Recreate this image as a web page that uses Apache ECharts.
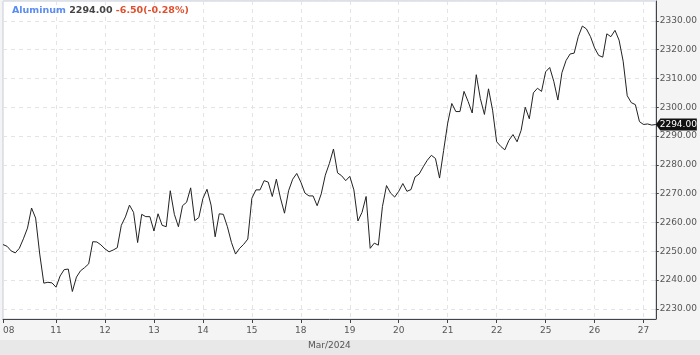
<!DOCTYPE html>
<html>
<head>
<meta charset="utf-8">
<script src="https://cdn.jsdelivr.net/npm/echarts@6/dist/echarts.min.js"></script>
<style>
html,body{margin:0;padding:0;background:#f4f4f4;}
#c{width:700px;height:355px;}
</style>
</head>
<body>
<div id="c"></div>
<script>
const instrument = 'Aluminum';
const changeAbs = '-6.50';
const changePct = '-0.28%';
const monthLabel = 'Mar/2024';
const days = ['08','11','12','13','14','15','18','19','20','21','22','25','26','27'];
const pointsPerDay = [13,12,12,12,12,12,12,12,12,12,12,12,12,4];
const prices = [
 2252.3,2251.7,2250.1,2249.4,2251.0,2254.3,2258.0,2265.0,2261.5,2249.0,2238.9,2239.2,2239.0,
 2237.5,2241.4,2243.6,2243.8,2236.0,2241.0,2243.2,2244.3,2245.6,2253.3,2253.2,2252.2,
 2250.8,2249.8,2250.4,2251.2,2259.0,2261.9,2266.0,2263.5,2253.0,2262.8,2262.0,2262.0,
 2257.0,2263.0,2259.0,2258.5,2271.0,2262.8,2258.5,2265.8,2267.0,2272.0,2260.6,2261.7,
 2268.3,2271.5,2266.0,2255.0,2263.0,2262.8,2258.5,2253.0,2249.0,2251.0,2252.4,2254.2,
 2268.4,2271.3,2271.3,2274.5,2274.0,2269.0,2275.0,2268.5,2263.2,2271.0,2275.0,2277.0,
 2274.0,2270.2,2269.2,2269.2,2265.8,2269.9,2276.4,2280.5,2285.5,2277.2,2276.2,2274.5,
 2276.0,2271.3,2260.5,2263.5,2269.0,2251.0,2252.8,2252.1,2265.5,2272.8,2270.2,2268.8,
 2270.8,2273.5,2270.8,2271.4,2275.8,2276.8,2279.3,2281.6,2283.3,2282.2,2275.4,2285.0,
 2294.5,2301.3,2298.5,2298.5,2305.5,2302.0,2298.0,2311.3,2303.0,2297.5,2306.4,2299.0,
 2288.0,2286.4,2285.2,2288.5,2290.5,2288.0,2292.0,2300.0,2296.0,2305.0,2306.6,2305.5,
 2312.3,2313.8,2309.0,2302.5,2312.0,2316.2,2318.5,2318.8,2324.5,2328.2,2327.2,2324.5,
 2320.6,2318.0,2317.4,2325.5,2324.5,2326.7,2323.3,2316.0,2304.0,2301.6,2300.9,2295.0,
 2294.0,2294.2,2293.8,2294.0
];
const yMin = 2226.45, yMax = 2336.9, yStep = 10;

const categories = [];
days.forEach((d, di) => { for (let k = 0; k < pointsPerDay[di]; k++) categories.push(d + '#' + k); });
const isDayStart = (i, v) => /#0$/.test(v);
const lastIdx = prices.length - 1;
const lastVal = prices[lastIdx];
const FONT = 'DejaVu Sans';

const chart = echarts.init(document.getElementById('c'));
chart.setOption({
  animation: false,
  backgroundColor: '#f4f4f4',
  textStyle: { fontFamily: FONT },
  title: {
    left: 7, top: 1,
    text: '{a|' + instrument + '} {b|' + lastVal.toFixed(2) + '} {c|' + changeAbs + '(' + changePct + ')}',
    textStyle: {
      fontSize: 9.5, fontWeight: 'bold', fontFamily: FONT,
      rich: {
        a: { fontFamily: FONT, fontWeight: 'bold', fontSize: 9.5, color: '#5b8cf0' },
        b: { fontFamily: FONT, fontWeight: 'bold', fontSize: 9.5, color: '#444' },
        c: { fontFamily: FONT, fontWeight: 'bold', fontSize: 9.5, color: '#e0502e' }
      }
    }
  },
  graphic: [{
    type: 'rect', left: 0, bottom: 0, z: -10,
    shape: { width: 700, height: 15 },
    style: { fill: '#e8e8e8' }
  }],
  grid: {
    left: 2, right: 44, top: 1, bottom: 34,
    show: true, backgroundColor: '#ffffff', borderColor: '#c5cede', borderWidth: 1
  },
  xAxis: {
    type: 'category', data: categories, boundaryGap: false,
    name: monthLabel, nameLocation: 'middle', nameGap: 22,
    nameTextStyle: { fontFamily: FONT, fontSize: 9, color: '#555' },
    axisLine: { lineStyle: { color: '#444', width: 1 } },
    axisTick: { show: true, interval: isDayStart, length: 4, lineStyle: { color: '#444' } },
    axisLabel: {
      interval: isDayStart, fontFamily: FONT, fontSize: 9, color: '#555', margin: 7,
      alignMinLabel: 'left',
      formatter: v => v.split('#')[0]
    },
    splitLine: { show: true, interval: isDayStart, lineStyle: { color: '#e4e4e4', type: [4, 4] } }
  },
  yAxis: {
    type: 'value', position: 'right', min: yMin, max: yMax,
    minInterval: yStep, maxInterval: yStep,
    axisLine: { show: true, lineStyle: { color: '#444', width: 1 } },
    axisTick: { show: true, length: 3, lineStyle: { color: '#444' } },
    axisLabel: {
      fontFamily: FONT, fontSize: 9, color: '#555', margin: 4,
      showMinLabel: false, showMaxLabel: false,
      formatter: v => (Math.abs(v / yStep - Math.round(v / yStep)) < 1e-6 ? v.toFixed(2) : '')
    },
    splitLine: { show: true, lineStyle: { color: '#e4e4e4', type: [4, 4] } }
  },
  series: [{
    type: 'line', data: prices, symbol: 'none', silent: true,
    lineStyle: { color: '#222', width: 1 },
    markPoint: {
      silent: true,
      symbol: 'path://M0,6 L5,0 L45,0 L45,12 L5,12 Z',
      symbolSize: [41, 12],
      symbolOffset: ['50%', 0],
      itemStyle: { color: '#111' },
      label: {
        show: true, color: '#fff', fontFamily: FONT, fontSize: 9, offset: [2, 0],
        formatter: () => lastVal.toFixed(2)
      },
      data: [{ coord: [lastIdx, lastVal] }]
    }
  }]
});
</script>
</body>
</html>
